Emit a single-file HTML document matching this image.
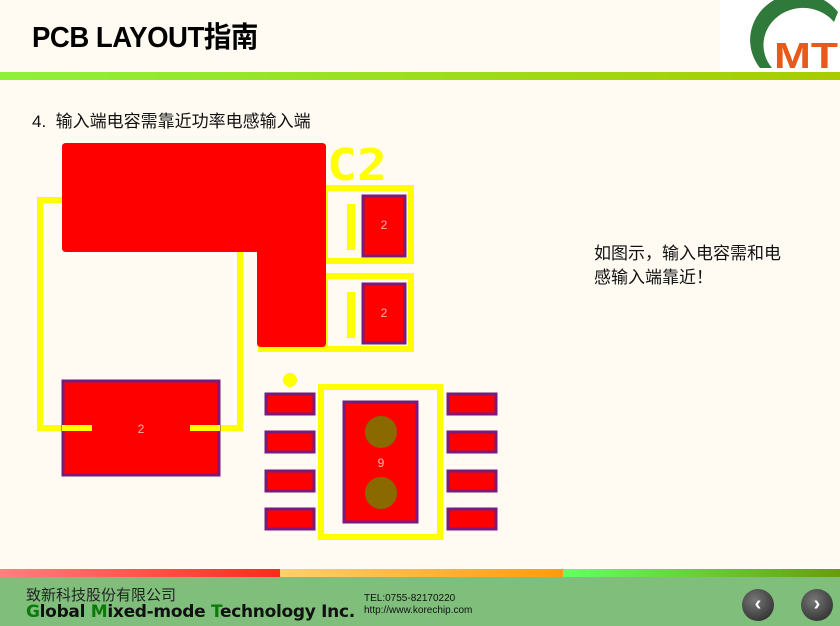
<!DOCTYPE html>
<html><head><meta charset="utf-8"><style>
body{margin:0;width:840px;height:626px;overflow:hidden;background:#fffbf3;font-family:"Liberation Sans","Noto Sans CJK SC",sans-serif;position:relative}
.a{position:absolute}
</style></head><body>
<div class="a" style="left:32px;top:14px;font-size:29px;font-weight:bold;color:#000;letter-spacing:-0.5px;transform:scaleX(0.95);transform-origin:left">PCB LAYOUT指南</div>
<div class="a" style="left:720px;top:0;width:120px;height:72px;background:#fff"></div>
<svg class="a" style="left:720px;top:0" width="120" height="72">
<path d="M40 68 A40 38 0 0 1 118 12 L114 22 A32 30 0 0 0 52 68 Z" fill="#2f7a3a"/>
<text x="54" y="68" font-family="Liberation Sans" font-weight="bold" font-size="36" fill="#e85a1c" textLength="64" lengthAdjust="spacingAndGlyphs">MT</text>
</svg>
<div class="a" style="left:0;top:72px;width:840px;height:8px;background:linear-gradient(90deg,#8ff03a,#a8cc00)"></div>
<div class="a" style="left:32px;top:107px;font-size:17px;color:#111">4.&nbsp;&nbsp;输入端电容需靠近功率电感输入端</div>
<div class="a" style="left:594px;top:242px;font-size:17px;color:#111;line-height:24px">如图示，输入电容需和电<br>感输入端靠近！</div>
<svg class="a" style="left:0;top:0" width="840" height="560">
<g fill="none" stroke="#ffff00" stroke-width="6">
<polyline points="62,200 40,200 40,428 92,428"/>
<polyline points="240,252 240,428 190,428"/>
<rect x="325" y="188" width="86" height="73"/>
<rect x="325" y="276" width="86" height="73"/>
<line x1="258" y1="349" x2="411" y2="349"/>
<rect x="321" y="387" width="119" height="150"/>
</g>
<path d="M66 143 H322 Q326 143 326 147 V343 Q326 347 322 347 H261 Q257 347 257 343 V252 H66 Q62 252 62 248 V147 Q62 143 66 143Z" fill="#ff0000"/>
<text x="327" y="180" font-family="DejaVu Sans Mono" font-weight="bold" font-size="44" fill="#ffff00" textLength="60" lengthAdjust="spacingAndGlyphs">C2</text>
<rect x="347" y="204" width="8" height="46" fill="#ffff00"/>
<rect x="347" y="292" width="8" height="46" fill="#ffff00"/>
<g fill="#ff0000" stroke="#7a1a7a" stroke-width="3">
<rect x="363" y="196" width="42" height="60"/>
<rect x="363" y="284" width="42" height="59"/>
<rect x="63" y="381" width="156" height="94"/>
<rect x="344" y="402" width="73" height="120"/>
<rect x="266" y="394" width="48" height="20"/><rect x="266" y="432" width="48" height="20"/><rect x="266" y="471" width="48" height="20"/><rect x="266" y="509" width="48" height="20"/>
<rect x="448" y="394" width="48" height="20"/><rect x="448" y="432" width="48" height="20"/><rect x="448" y="471" width="48" height="20"/><rect x="448" y="509" width="48" height="20"/>
</g>
<g fill="none" stroke="#ffff00" stroke-width="6">
<line x1="62" y1="428" x2="92" y2="428"/><line x1="190" y1="428" x2="220" y2="428"/>
</g>
<circle cx="290" cy="380" r="7" fill="#ffff00"/>
<circle cx="381" cy="432" r="16" fill="#8a6a00"/>
<circle cx="381" cy="493" r="16" fill="#8a6a00"/>
<g fill="#ffb0b0" font-family="Liberation Sans" font-size="12" text-anchor="middle">
<text x="384" y="229">2</text><text x="384" y="317">2</text><text x="141" y="433">2</text><text x="381" y="467">9</text>
</g>
</svg>
<div class="a" style="left:0;top:569px;width:280px;height:8px;background:linear-gradient(90deg,#ff8080,#ff2a1a)"></div>
<div class="a" style="left:280px;top:569px;width:283px;height:8px;background:linear-gradient(90deg,#ffd070,#ff9a10)"></div>
<div class="a" style="left:563px;top:569px;width:277px;height:8px;background:linear-gradient(90deg,#66ff66,#6a9a10)"></div>
<div class="a" style="left:0;top:577px;width:840px;height:49px;background:#7fbf7b"></div>
<div class="a" style="left:26px;top:584px;font-size:15px;color:#222">致新科技股份有限公司</div>
<div class="a" style="left:26px;top:602px;font-size:17px;font-weight:bold;color:#111;font-family:'DejaVu Sans',sans-serif;letter-spacing:-0.3px"><span style="color:#0a7a0a">G</span>lobal <span style="color:#0a7a0a">M</span>ixed-mode <span style="color:#0a7a0a">T</span>echnology Inc.</div>
<div class="a" style="left:364px;top:593px;font-size:10px;color:#111;line-height:12px">TEL:0755-82170220<br>http://www.korechip.com</div>
<div class="a" style="left:742px;top:589px;width:32px;height:32px;border-radius:50%;background:radial-gradient(circle at 40% 35%,#777,#222);color:#fff;font-weight:bold;font-size:20px;text-align:center;line-height:31px">&lsaquo;</div>
<div class="a" style="left:801px;top:589px;width:32px;height:32px;border-radius:50%;background:radial-gradient(circle at 40% 35%,#777,#222);color:#fff;font-weight:bold;font-size:20px;text-align:center;line-height:31px">&rsaquo;</div>
</body></html>
